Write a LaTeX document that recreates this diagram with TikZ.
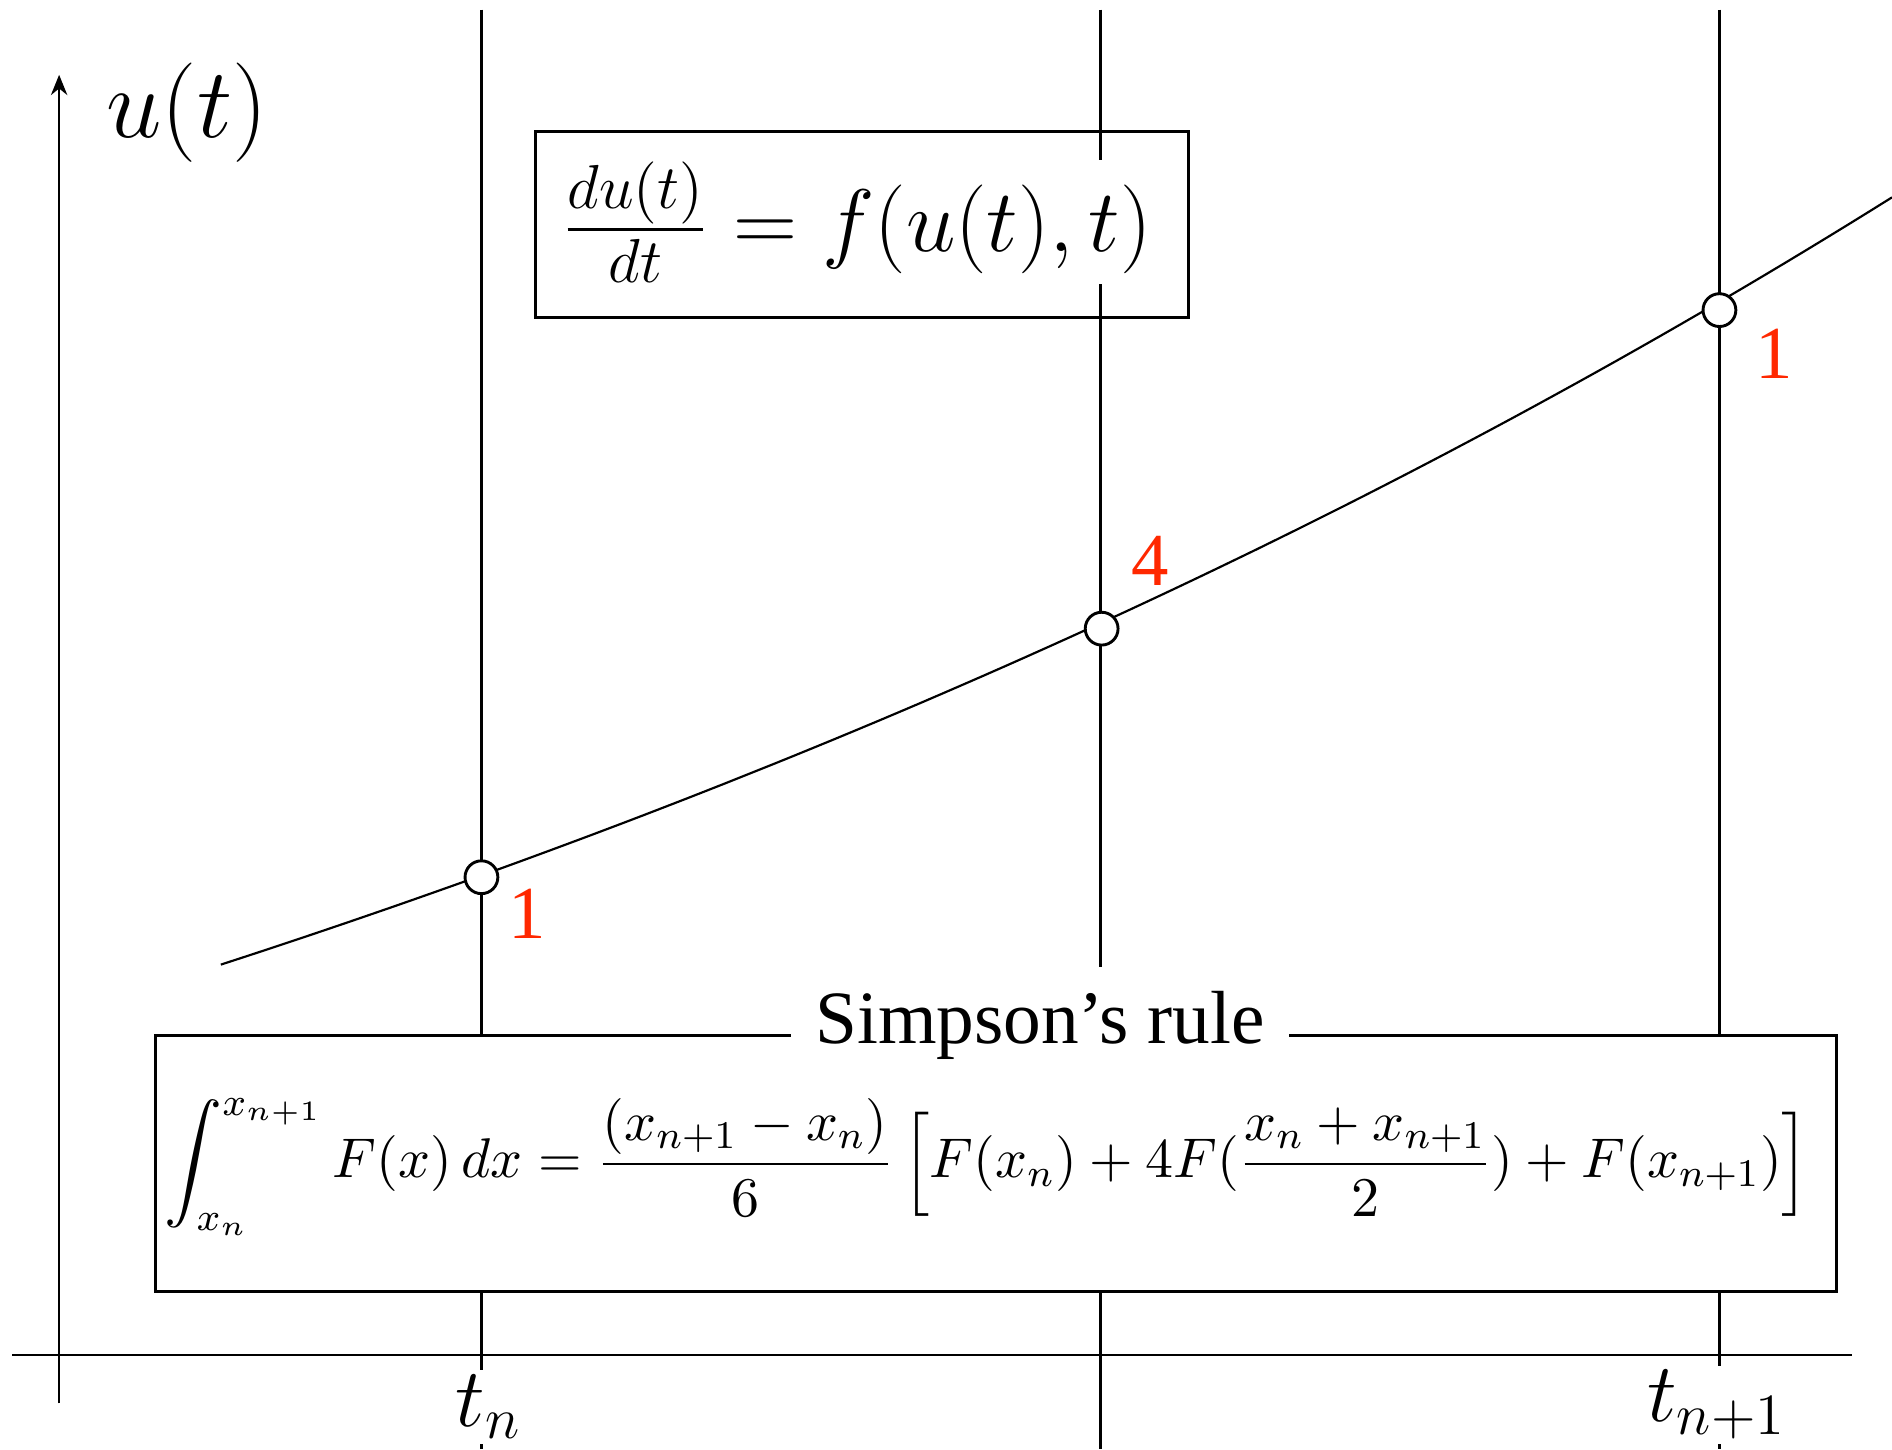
\RequirePackage{fix-cm}
\documentclass[tikz,border=0pt]{standalone}
\usepackage{amsmath}
\usepackage{fontspec}
\newfontfamily\timesfont{Liberation Serif}
\usetikzlibrary{arrows.meta}
\definecolor{numred}{RGB}{255,40,0}
\tikzset{
  thinline/.style={line width=0.45pt},
  boxline/.style={line width=0.6pt},
  ptcircle/.style={circle,draw,line width=0.6pt,fill=white,minimum size=6.8pt,inner sep=0pt},
  weight/.style={text=numred,font=\timesfont\fontsize{15.5}{18}\selectfont,inner sep=0pt},
  ticklabel/.style={fill=white,inner sep=1pt,font=\fontsize{17.3}{20}\selectfont},
}
\begin{document}
\begin{tikzpicture}[x=0.25pt,y=-0.25pt]
\useasboundingbox (0,0) rectangle (1568,1201);
% named coordinates
\coordinate (ltop) at (399,8);   \coordinate (lbot) at (399,1201);
\coordinate (mtop) at (912,8);   \coordinate (mbot) at (912,1201);
\coordinate (rtop) at (1425,8);  \coordinate (rbot) at (1425,1201);
\coordinate (xa0) at (10,1123);  \coordinate (xa1) at (1535,1123);
\coordinate (ya0) at (49,1163);  \coordinate (ya1) at (49,62);
% vertical grid lines
\draw[thinline] (ltop) -- (lbot);
\draw[thinline] (mtop) -- (mbot);
\draw[thinline] (rtop) -- (rbot);
% axes
\draw[thinline] (xa0) -- (xa1);
\draw[thinline,-{Stealth[length=4.2pt,width=3.4pt]}] (ya0) -- (ya1);
\node[font=\fontsize{20.6}{24}\selectfont] (ulabel) at (155,93) {$u(t)$};
% tick labels
\node[ticklabel] (tn) at (405,1166) {$t_n$};
\node[ticklabel] (tn1) at (1423,1164) {$t_{n+1}$};
% ODE box
\draw[boxline] (444,109) rectangle (985,263);
\node[fill=white,inner sep=0.5pt,font=\fontsize{18.4}{22}\selectfont] (ode) at (710,184)
  {$\frac{du(t)}{dt} = f(u(t),t)$};
% curve
\draw[thinline] plot[domain=183:1568,samples=80] (\x,{1486.6-630.2*exp(0.000468*\x)});
% points
\node[ptcircle] (p1) at (399,727) {};
\node[ptcircle] (p2) at (913,521) {};
\node[ptcircle] (p3) at (1425,257) {};
\node[weight] (w1) at (437,757) {1};
\node[weight] (w2) at (953,465) {4};
\node[weight] (w3) at (1470,293) {1};
% Simpson box
\draw[boxline,fill=white] (129,858) rectangle (1522,1070);
\node[fill=white,inner xsep=5pt,inner ysep=5pt,font=\timesfont\fontsize{15.6}{18}\selectfont] (title) at (862,850) {Simpson’s rule};
\node[font=\fontsize{11.6}{14}\selectfont] (simpson) at (818,967)
  {$\displaystyle \int_{x_n}^{x_{n+1}} F(x)\,dx = \frac{(x_{n+1}-x_n)}{6}\left[F(x_n)+4F(\frac{x_n+x_{n+1}}{2})+F(x_{n+1})\right]$};
\end{tikzpicture}
\end{document}
